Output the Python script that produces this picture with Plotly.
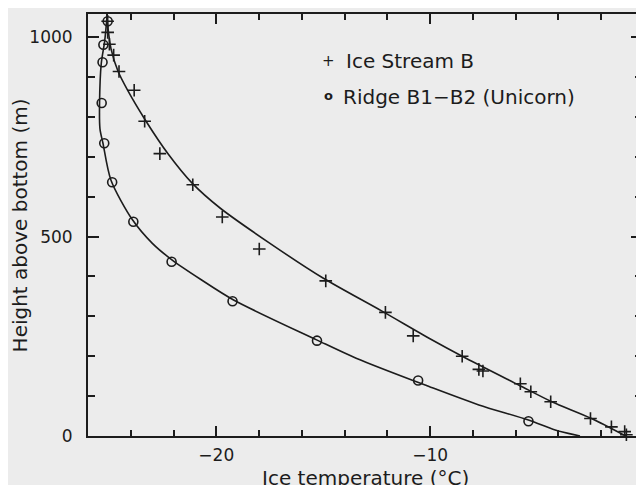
import plotly.graph_objects as go

# measured points, Ice Stream B (plus markers)
stream_temp = [-25.08, -25.08, -25.0, -24.8, -24.55, -23.84, -23.35, -22.64, -21.10,
               -19.72, -17.99, -14.88, -12.09, -10.79, -8.50, -7.72, -7.53, -5.78,
               -5.29, -4.36, -2.50, -1.52, -0.90, -0.82]
stream_height = [1040, 1012, 982, 955, 914, 867, 789, 708, 630,
                 549, 469, 389, 310, 251, 200, 167, 163, 131,
                 111, 86, 44, 23, 11, 3]

# measured points, Ridge B1-B2 (circles)
ridge_temp = [-25.08, -25.28, -25.32, -25.36, -25.24, -24.87, -23.88, -22.09,
              -19.24, -15.29, -10.56, -5.40, -3.45]
ridge_height = [1040, 981, 937, 835, 734, 636, 537, 437,
                338, 239, 139, 37, -1]

# fitted curves
stream_fit_temp = [-25.12, -25.06, -24.92, -24.60, -24.15, -23.33, -22.25, -21.13,
                   -19.81, -17.49, -15.01, -12.25, -10.05, -8.50, -5.86, -4.31,
                   -2.45, -0.85]
stream_fit_height = [1058, 1020, 970, 915, 867, 793, 707, 634,
                     571, 483, 396, 313, 245, 200, 128, 86,
                     44, 0]

ridge_fit_temp = [-25.10, -25.22, -25.38, -25.46, -25.44, -25.30, -24.93, -23.92,
                  -22.99, -22.06, -20.74, -19.19, -15.31, -13.46, -10.05, -7.72,
                  -5.40, -4.15, -2.99]
ridge_fit_height = [1058, 990, 934, 835, 770, 734, 642, 542,
                    483, 441, 393, 341, 241, 195, 124, 78,
                    40, 15, 0]

INK = "#1c1c1c"
BG = "#ececec"
FONT = "DejaVu Sans"

fig = go.Figure()
fig.add_trace(go.Scatter(x=stream_fit_temp, y=stream_fit_height, mode="lines",
                         line=dict(color=INK, width=1.6, shape="spline", smoothing=0.8),
                         cliponaxis=False))
fig.add_trace(go.Scatter(x=ridge_fit_temp, y=ridge_fit_height, mode="lines",
                         line=dict(color=INK, width=1.6, shape="spline", smoothing=0.8),
                         cliponaxis=False))
fig.add_trace(go.Scatter(x=stream_temp, y=stream_height, mode="markers",
                         marker=dict(symbol="cross-thin-open", size=9, color=INK,
                                     line=dict(color=INK, width=1.6)),
                         cliponaxis=False))
fig.add_trace(go.Scatter(x=ridge_temp, y=ridge_height, mode="markers",
                         marker=dict(symbol="circle-open", size=9, color=INK,
                                     line=dict(color=INK, width=1.6)),
                         cliponaxis=False))

# the page body has an 8px white margin, which plays the scan's white border
fig.update_layout(
    width=636, height=477,
    margin=dict(l=80, r=0, t=6, b=49),
    paper_bgcolor=BG, plot_bgcolor=BG,
    showlegend=False,
    font=dict(family=FONT, size=17, color=INK),
    annotations=[
        dict(text="Ice temperature (°C)", xref="paper", yref="paper", x=0.5, y=-0.1,
             xanchor="center", yanchor="middle", showarrow=False, font=dict(size=20)),
        dict(text="Height above bottom (m)", xref="paper", yref="paper", x=-0.122, y=0.5,
             xanchor="center", yanchor="middle", textangle=-90, showarrow=False,
             font=dict(size=20)),
        dict(text="+", xref="paper", yref="paper", x=0.434, y=0.889,
             xanchor="center", yanchor="middle", showarrow=False, font=dict(size=15)),
        dict(text="Ice Stream B", xref="paper", yref="paper", x=0.462, y=0.889,
             xanchor="left", yanchor="middle", showarrow=False, font=dict(size=20)),
        dict(text="<b>o</b>", xref="paper", yref="paper", x=0.434, y=0.806,
             xanchor="center", yanchor="middle", showarrow=False, font=dict(size=13)),
        dict(text="Ridge B1−B2 (Unicorn)", xref="paper", yref="paper", x=0.456, y=0.803,
             xanchor="left", yanchor="middle", showarrow=False, font=dict(size=20)),
    ],
)

fig.update_xaxes(
    range=[-26, -0.09], tickmode="array", tickvals=[-20, -10, 0],
    ticks="inside", ticklen=10, tickwidth=2, tickcolor=INK,
    minor=dict(dtick=2, tick0=0, ticks="inside", ticklen=6, tickwidth=1.5, tickcolor=INK),
    showline=True, linewidth=2, linecolor=INK, mirror="ticks",
    showgrid=False, zeroline=False, ticklabelstandoff=3,
)
fig.update_yaxes(
    range=[0, 1058], tickmode="array", tickvals=[0, 500, 1000],
    ticks="inside", ticklen=11, tickwidth=2, tickcolor=INK,
    minor=dict(dtick=100, tick0=0, ticks="inside", ticklen=7, tickwidth=1.5, tickcolor=INK),
    showline=True, linewidth=2, linecolor=INK, mirror="ticks",
    showgrid=False, zeroline=False, ticklabelstandoff=10,
)

fig.write_html("out.html")
